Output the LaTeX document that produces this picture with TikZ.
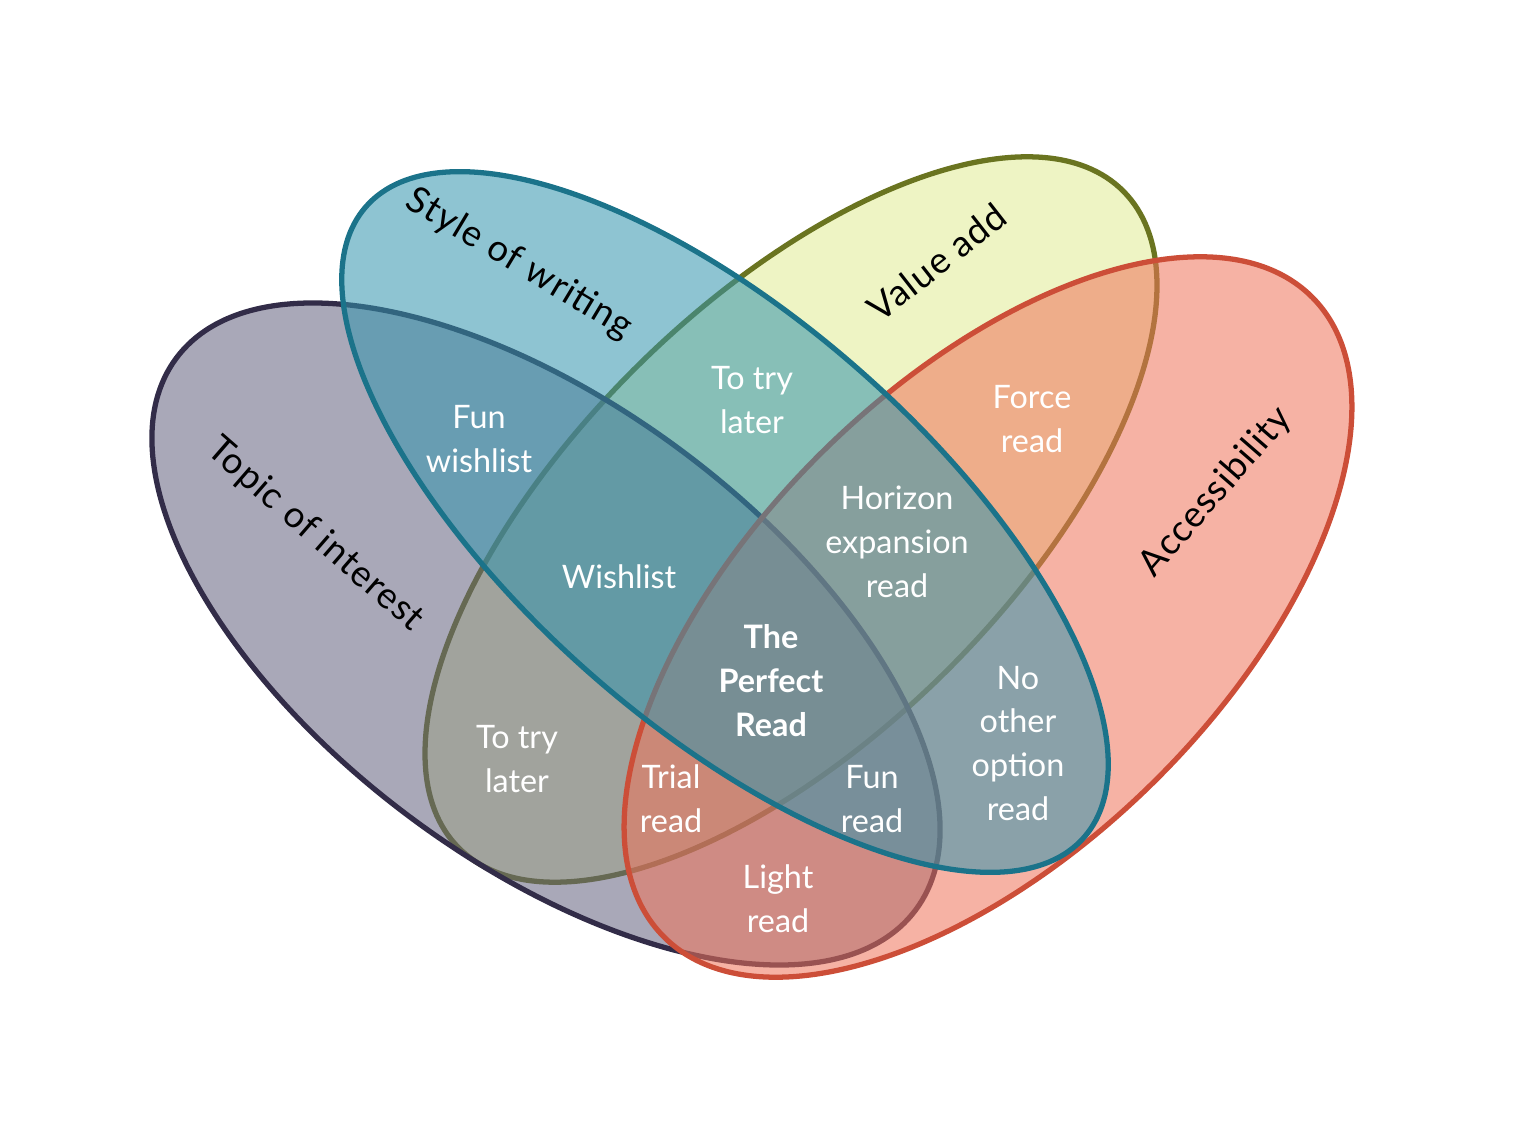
\documentclass[tikz,border=0pt]{standalone}
\usepackage{fontspec}
\setmainfont{Lato}
\newfontfamily\titlefont[LetterSpace=3]{Lato}
\definecolor{topicfill}{RGB}{99,97,126}
\definecolor{topicline}{RGB}{50,44,72}
\definecolor{stylefill}{RGB}{50,148,173}
\definecolor{styleline}{RGB}{27,115,138}
\definecolor{valuefill}{RGB}{224,235,148}
\definecolor{valueline}{RGB}{106,116,32}
\definecolor{accessfill}{RGB}{239,115,90}
\definecolor{accessline}{RGB}{204,78,56}
\begin{document}
\begin{tikzpicture}
  [set/.style={line width=1.5pt, fill opacity=0.55},
    region/.style={text=white, align=center,
    font=\fontsize{9.2}{12.5}\selectfont},
    title/.style={text=black,
    font=\titlefont\fontsize{10.4}{12}\selectfont}]
  \useasboundingbox (0,0) rectangle (15.15,11.42);
  % the four sets
  \draw[set, draw=valueline, fill=valuefill]
    (7.91,6.225) ellipse [x radius=4.672, y radius=2.171, rotate=44.6];
  \draw[set, draw=topicline, fill=topicfill]
    (5.46,5.08) ellipse [x radius=4.613, y radius=2.28, rotate=-36.75];
  \draw[set, draw=accessline, fill=accessfill]
    (9.88,5.25) ellipse [x radius=4.554, y radius=2.339, rotate=44.5];
  \draw[set, draw=styleline, fill=stylefill]
    (7.25,6.20) ellipse [x radius=4.779, y radius=2.028, rotate=-41.3];
  % set names
  \node[title, rotate=-41] (topic) at (3.15,6.07) {Topic of interest};
  \node[title, rotate=-31] (style) at (5.19,8.78) {Style of writing};
  \node[title, rotate=38] (value) at (9.37,8.80) {Value add};
  \node[title, rotate=49] (access) at (12.16,6.50) {Accessibility};
  % regions
  \node[region] (trytop) at (7.52,7.42) {To try\\later};
  \node[region] (funwish) at (4.79,7.03) {Fun\\wishlist};
  \node[region] (force) at (10.32,7.23) {Force\\read};
  \node[region] (horizon) at (8.97,6.005) {Horizon\\expansion\\read};
  \node[region] (wish) at (6.19,5.65) {Wishlist};
  \node[region, font=\fontsize{9.2}{12.5}\selectfont\bfseries]
    (perfect) at (7.71,4.61) {The\\Perfect\\Read};
  \node[region] (trybottom) at (5.17,3.83) {To try\\later};
  \node[region] (trial) at (6.71,3.43) {Trial\\read};
  \node[region] (funread) at (8.72,3.43) {Fun\\read};
  \node[region] (nooption) at (10.18,3.985) {No\\other\\option\\read};
  \node[region] (light) at (7.78,2.43) {Light\\read};
\end{tikzpicture}
\end{document}
